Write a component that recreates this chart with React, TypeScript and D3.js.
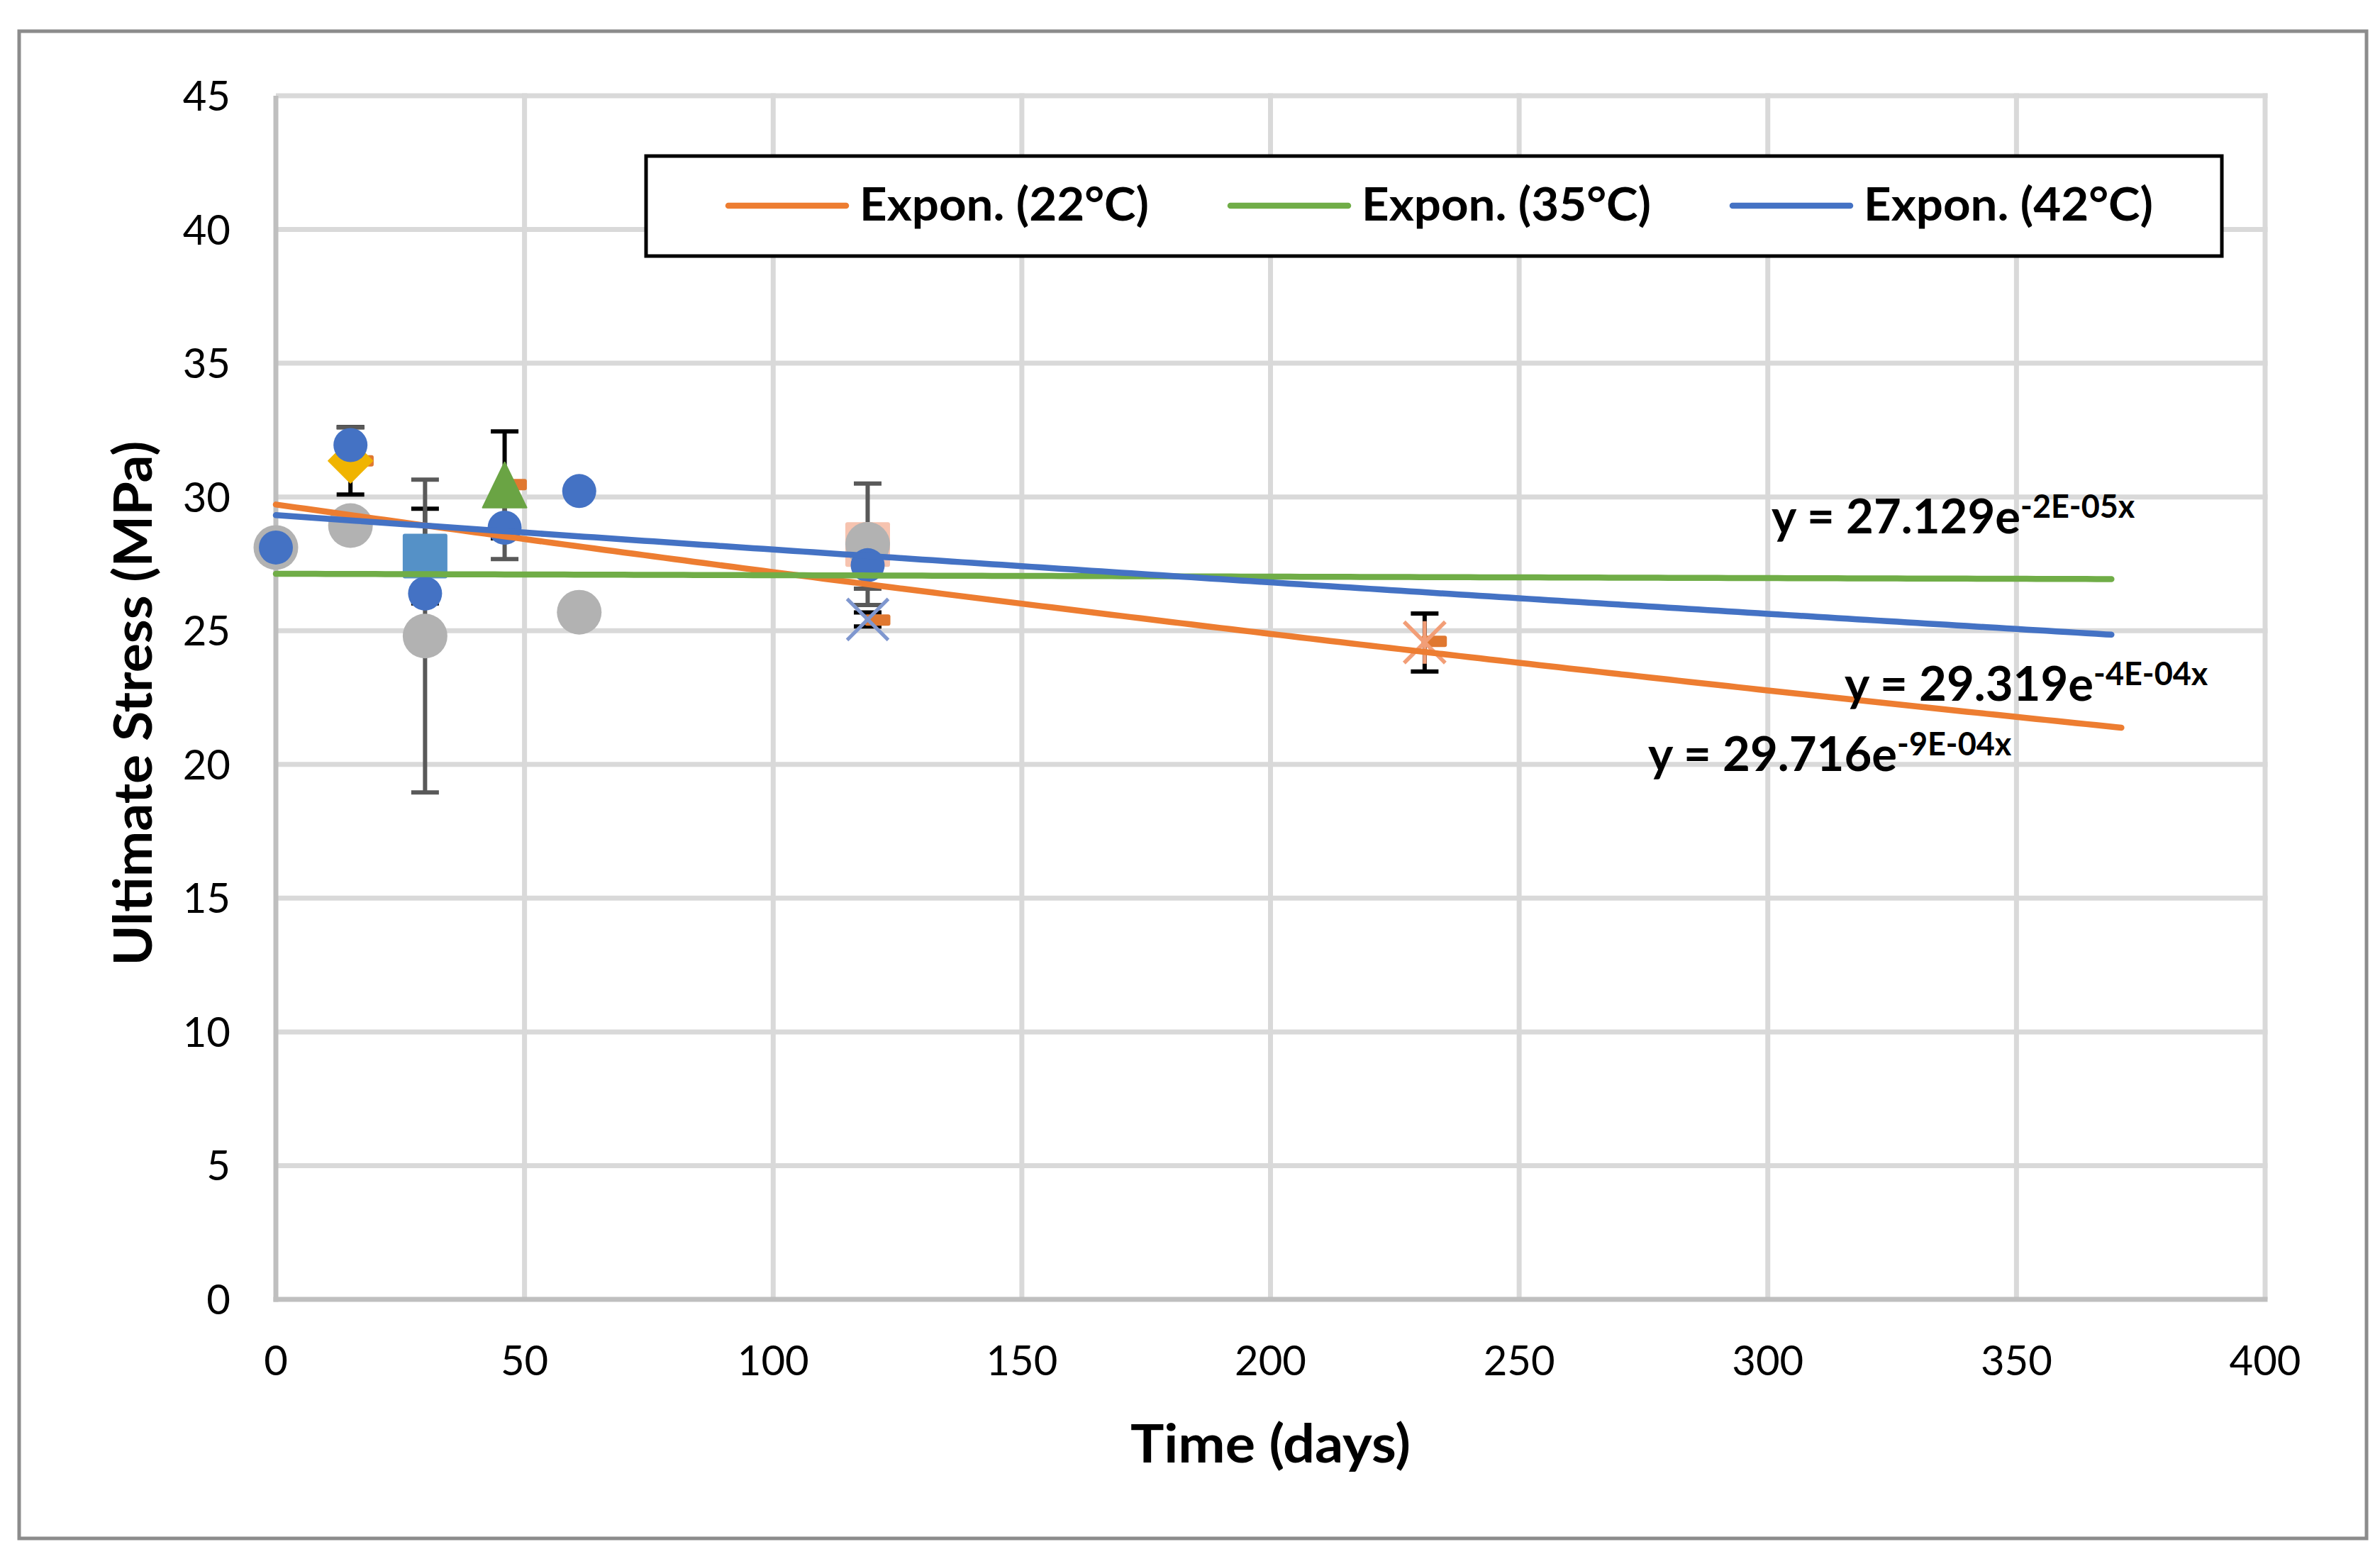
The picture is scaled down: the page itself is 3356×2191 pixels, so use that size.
import React from "react";
import * as d3 from "d3";

// ---------- data ----------
const xTickValues = [0, 50, 100, 150, 200, 250, 300, 350, 400];
const yTickValues = [0, 5, 10, 15, 20, 25, 30, 35, 40, 45];

// grey circles
const grayX = [0, 15, 30, 61, 119];
const grayY = [28.11, 28.93, 24.8, 25.69, 28.23];
const grayErr = [0, 0, 5.85, 0, 2.27];

// blue circles
const blueX = [0, 15, 30, 46, 61, 119];
const blueY = [28.11, 31.94, 26.39, 28.85, 30.22, 27.45];
const blueErr = [0, 0.66, 0, 1.17, 0, 0.88];

// yellow diamond
const diamondX = [15];
const diamondY = [31.35];
const diamondErr = [1.26];

// light-blue square
const lbSquareX = [30];
const lbSquareY = [27.79];
const lbSquareErr = [1.77];

// green triangle
const triX = [46];
const triY = [30.45];
const triErr = [2.0];

// pale salmon square
const pinkX = [119];
const pinkY = [28.22];

// blue X
const crossX = [119];
const crossY = [25.42];
const crossErr = [0.26];

// salmon asterisk
const starX = [231];
const starY = [24.56];
const starErr = [1.085];

// orange dash markers
const dashX = [17.1, 47.9, 121.0, 232.9];
const dashY = [31.35, 30.46, 25.4, 24.6];

// exponential trendlines  y = a * exp(b x)
const trendNames = ["Expon. (22°C)", "Expon. (35°C)", "Expon. (42°C)"];
const trendA = [29.716, 27.129, 29.319];
const trendB = [-0.000888, -0.00002, -0.000448];
const trendXMax = [371.1, 369.1, 369.1];
const trendColors = ["#ED7D31", "#70AD47", "#4472C4"];
const trendCoefText = ["29.716", "27.129", "29.319"];
const trendExpText = ["-9E-04x", "-2E-05x", "-4E-04x"];

const FONT = 'Lato, "Open Sans", "DejaVu Sans", sans-serif';

export default function App() {
  const W = 3356;
  const H = 2191;
  const x = d3.scaleLinear().domain([0, 400]).range([389, 3194]);
  const y = d3.scaleLinear().domain([0, 45]).range([1832, 135]);

  const line = d3
    .line<[number, number]>()
    .x((d) => x(d[0]))
    .y((d) => y(d[1]));

  const trendPaths = trendA.map((a, i) => {
    const xs = d3.range(0, trendXMax[i], 2).concat([trendXMax[i]]);
    const pts: [number, number][] = xs.map((v) => [v, a * Math.exp(trendB[i] * v)]);
    return line(pts) || "";
  });

  const errBar = (xs: number[], ys: number[], es: number[], color: string, key: string) =>
    xs.map((xv, i) => {
      if (!es[i]) return null;
      const cx = x(xv);
      const top = y(ys[i] + es[i]);
      const bot = y(ys[i] - es[i]);
      const hw = 19.5;
      return (
        <g key={key + i} stroke={color} strokeWidth={6} fill="none">
          <line x1={cx} x2={cx} y1={top} y2={bot} />
          <line x1={cx - hw} x2={cx + hw} y1={top} y2={top} />
          <line x1={cx - hw} x2={cx + hw} y1={bot} y2={bot} />
        </g>
      );
    });

  // equation label layout: [trend index, x, baseline]
  const eqLayout: [number, number, number][] = [
    [1, 2498, 752],
    [2, 2601, 988],
    [0, 2324, 1087],
  ];

  const legendLineX = [1027, 1735, 2443];

  return (
    <svg
      width={W}
      height={H}
      viewBox={`0 0 ${W} ${H}`}
      style={{ position: "fixed", left: 0, top: 0, display: "block", background: "#fff" }}
      fontFamily={FONT}
    >
      <rect x={0} y={0} width={W} height={H} fill="#fff" />

      {/* gridlines */}
      <g stroke="#D9D9D9" strokeWidth={7}>
        {yTickValues
          .filter((v) => v !== 0)
          .map((v) => (
            <line key={"gy" + v} x1={x(0)} x2={x(400) + 3.5} y1={y(v)} y2={y(v)} />
          ))}
        {xTickValues
          .filter((v) => v !== 0)
          .map((v) => (
            <line key={"gx" + v} x1={x(v)} x2={x(v)} y1={y(45) - 3.5} y2={y(0)} />
          ))}
      </g>
      {/* axes */}
      <g stroke="#BFBFBF" strokeWidth={7}>
        <line x1={x(0)} x2={x(0)} y1={y(45)} y2={y(0) + 3.5} />
        <line x1={x(0) - 3.5} x2={x(400) + 3.5} y1={y(0)} y2={y(0)} />
      </g>

      {/* error bars */}
      {errBar(diamondX, diamondY, diamondErr, "#000", "ed")}
      {errBar(lbSquareX, lbSquareY, lbSquareErr, "#000", "es")}
      {errBar(triX, triY, triErr, "#000", "et")}
      {errBar(crossX, crossY, crossErr, "#000", "ex")}
      {errBar(starX, starY, starErr, "#000", "ea")}
      {errBar(grayX, grayY, grayErr, "#595959", "eg")}
      {errBar(blueX, blueY, blueErr, "#595959", "eb")}

      {/* markers */}
      {grayX.map((xv, i) => (
        <circle key={"g" + i} cx={x(xv)} cy={y(grayY[i])} r={31.5} fill="#B2B2B2" />
      ))}
      {pinkX.map((xv, i) => (
        <rect
          key={"p" + i}
          x={x(xv) - 31.5}
          y={y(pinkY[i]) - 31.5}
          width={63}
          height={63}
          rx={3}
          fill="#F6C3AF"
        />
      ))}
      {/* grey circle over pink square */}
      {grayX.map((xv, i) =>
        pinkX.includes(xv) ? (
          <circle key={"g2" + i} cx={x(xv)} cy={y(grayY[i])} r={31.5} fill="#B2B2B2" />
        ) : null
      )}
      {dashX.map((xv, i) => (
        <rect
          key={"d" + i}
          x={x(xv) - 18}
          y={y(dashY[i]) - 8}
          width={36}
          height={16}
          rx={3}
          fill="#E07830"
        />
      ))}
      {diamondX.map((xv, i) => {
        const cx = x(xv);
        const cy = y(diamondY[i]);
        const h = 31;
        return (
          <path
            key={"dm" + i}
            d={`M${cx},${cy - h}L${cx + h},${cy}L${cx},${cy + h}L${cx - h},${cy}Z`}
            fill="#F0B400"
            stroke="#F0B400"
            strokeWidth={2}
            strokeLinejoin="round"
          />
        );
      })}
      {lbSquareX.map((xv, i) => (
        <rect
          key={"s" + i}
          x={x(xv) - 31.5}
          y={y(lbSquareY[i]) - 31.5}
          width={63}
          height={63}
          rx={3}
          fill="#5591C7"
        />
      ))}
      {triX.map((xv, i) => {
        const cx = x(xv);
        const cy = y(triY[i]);
        return (
          <path
            key={"t" + i}
            d={`M${cx},${cy - 32}L${cx + 31},${cy + 32}L${cx - 31},${cy + 32}Z`}
            fill="#6AA444"
            stroke="#6AA444"
            strokeWidth={2}
            strokeLinejoin="round"
          />
        );
      })}
      {blueX.map((xv, i) => (
        <circle key={"b" + i} cx={x(xv)} cy={y(blueY[i])} r={24} fill="#4472C4" />
      ))}
      {crossX.map((xv, i) => {
        const cx = x(xv);
        const cy = y(crossY[i]);
        const h = 29;
        return (
          <g key={"x" + i} stroke="#7F97CF" strokeWidth={5}>
            <line x1={cx - h} y1={cy - h} x2={cx + h} y2={cy + h} />
            <line x1={cx - h} y1={cy + h} x2={cx + h} y2={cy - h} />
          </g>
        );
      })}
      {starX.map((xv, i) => {
        const cx = x(xv);
        const cy = y(starY[i]);
        const h = 29;
        return (
          <g key={"a" + i} stroke="#F29E77" strokeWidth={5.5}>
            <line x1={cx - h} y1={cy - h} x2={cx + h} y2={cy + h} />
            <line x1={cx - h} y1={cy + h} x2={cx + h} y2={cy - h} />
            <line x1={cx} y1={cy - h - 1} x2={cx} y2={cy + h + 1} />
          </g>
        );
      })}

      {/* trendlines */}
      {trendPaths.map((d, i) => (
        <path
          key={"tr" + i}
          d={d}
          fill="none"
          stroke={trendColors[i]}
          strokeWidth={8.5}
          strokeLinecap="round"
        />
      ))}

      {/* equations */}
      {eqLayout.map(([ti, ex, ey]) => (
        <text key={"eq" + ti} x={ex} y={ey} fontSize={67} fontWeight={700} fill="#000">
          <tspan>{`y = ${trendCoefText[ti]}e`}</tspan>
          <tspan fontSize={45} dy={-22}>
            {trendExpText[ti]}
          </tspan>
        </text>
      ))}

      {/* legend */}
      <rect x={911} y={220} width={2222} height={141} fill="#fff" stroke="#000" strokeWidth={5} />
      {trendNames.map((name, i) => (
        <g key={"lg" + i}>
          <line
            x1={legendLineX[i]}
            x2={legendLineX[i] + 166}
            y1={290}
            y2={290}
            stroke={trendColors[i]}
            strokeWidth={8.5}
            strokeLinecap="round"
          />
          <text
            x={legendLineX[i] + 185}
            y={311}
            fontSize={65}
            fontWeight={700}
            fill="#000"
            textLength={408}
            lengthAdjust="spacingAndGlyphs"
          >
            {name}
          </text>
        </g>
      ))}

      {/* tick labels */}
      {yTickValues.map((v) => (
        <text key={"yt" + v} x={325} y={y(v) + 21} textAnchor="end" fontSize={58} fill="#000">
          {v}
        </text>
      ))}
      {xTickValues.map((v) => (
        <text key={"xt" + v} x={x(v)} y={1939} textAnchor="middle" fontSize={58} fill="#000">
          {v}
        </text>
      ))}

      {/* axis titles */}
      <text
        x={x(200)}
        y={2062}
        textAnchor="middle"
        fontSize={74}
        fontWeight={700}
        fill="#000"
        textLength={395}
        lengthAdjust="spacingAndGlyphs"
      >
        Time (days)
      </text>
      <text
        transform={`translate(214, ${(y(0) + y(45)) / 2 + 8}) rotate(-90)`}
        textAnchor="middle"
        fontSize={74}
        fontWeight={700}
        fill="#000"
        textLength={740}
        lengthAdjust="spacingAndGlyphs"
      >
        Ultimate Stress (MPa)
      </text>

      {/* outer border */}
      <rect x={27} y={44} width={3310} height={2125} fill="none" stroke="#8C8C8C" strokeWidth={5} />
    </svg>
  );
}
